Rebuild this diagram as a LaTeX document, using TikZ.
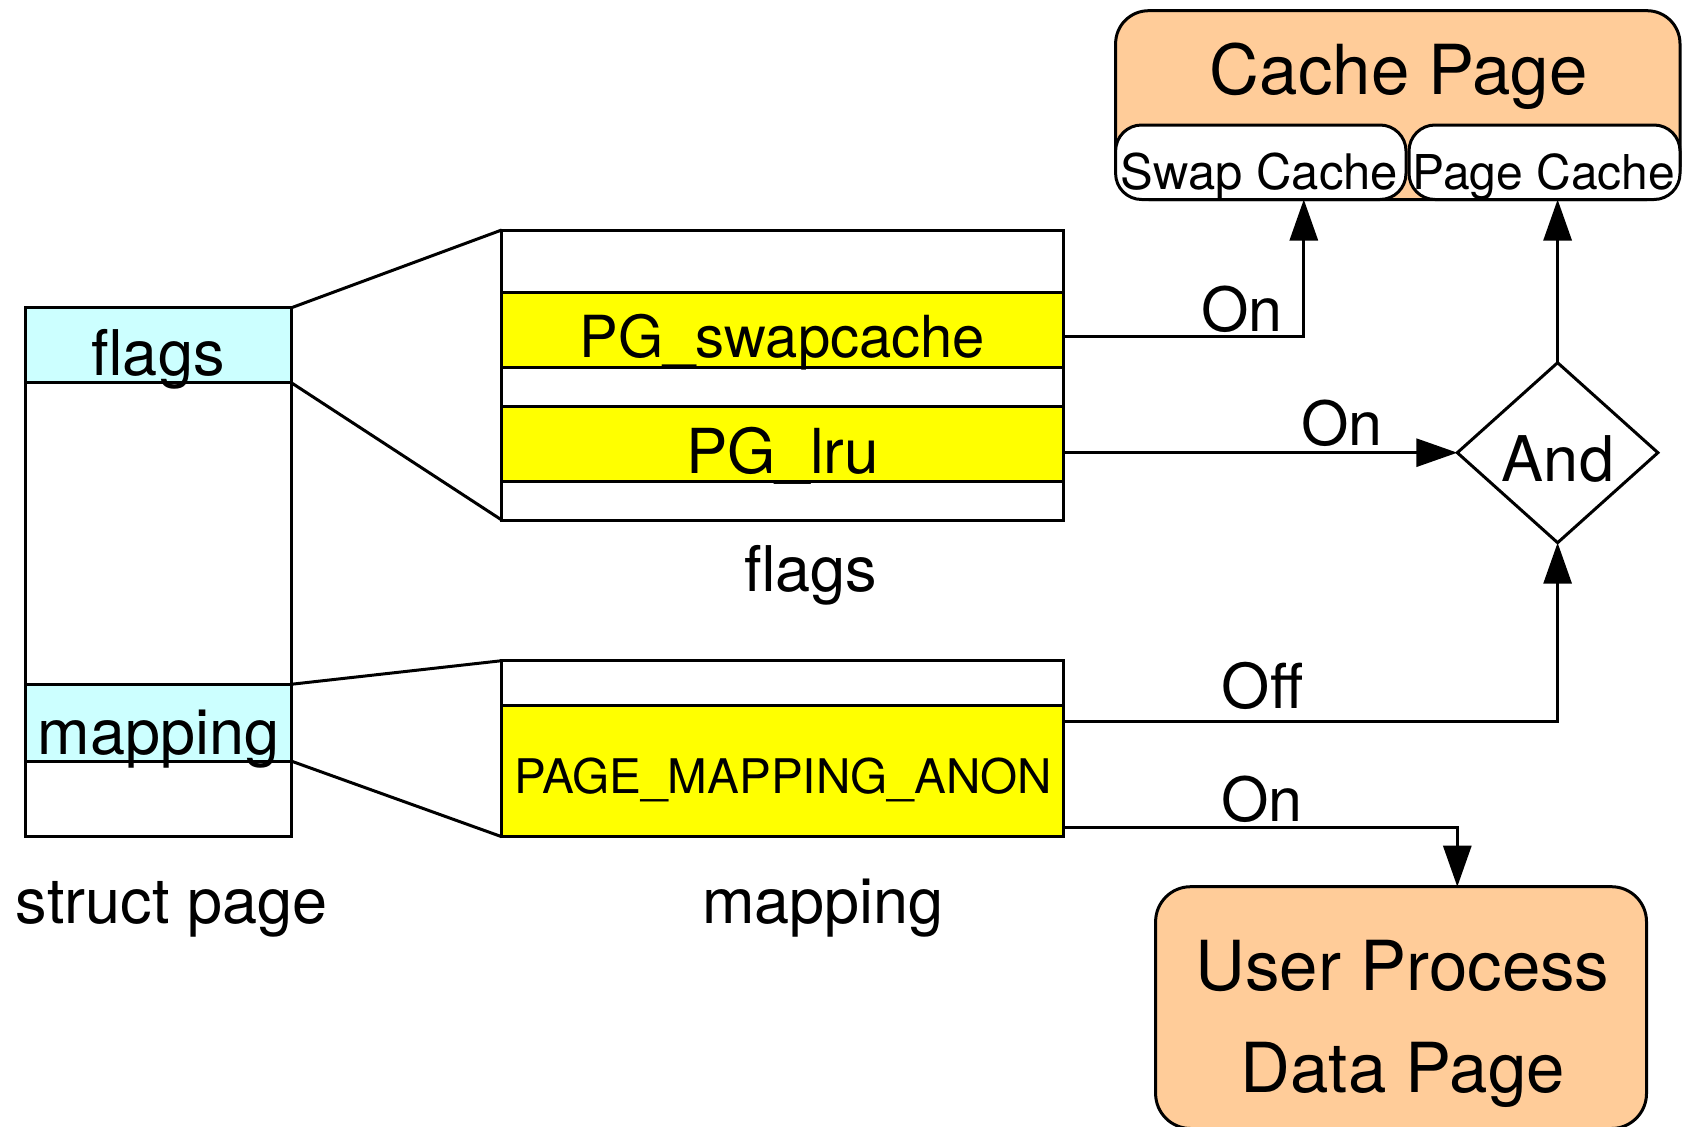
\documentclass[tikz,border=0pt]{standalone}
\usepackage{fontspec}
\setmainfont{TeX Gyre Heros}
\usetikzlibrary{arrows.meta,shapes.geometric,fit}
\definecolor{peach}{RGB}{255,204,153}
\definecolor{fieldcyan}{RGB}{204,255,255}
\definecolor{flagyellow}{RGB}{255,255,0}
\newcommand\fsz[1]{\fontsize{#1}{#1}\selectfont}
\begin{document}
\begin{tikzpicture}[x=1pt,y=-1pt,
  outline/.style={draw=black, line width=3pt, inner sep=0pt, outer sep=0pt},
  cell/.style={outline, fill=fieldcyan},
  bit/.style={outline, fill=flagyellow},
  cachebox/.style={outline, fill=peach, rounded corners=33pt},
  subcache/.style={outline, fill=white, rounded corners=26pt},
  txt/.style={inner sep=0pt, outer sep=0pt, anchor=base},
  link/.style={draw=black, line width=3pt},
  conn/.style={draw=black, line width=3pt, -{Triangle[length=41pt,width=28pt]}},
]
\useasboundingbox (0,0) rectangle (1682,1127);

% struct page with its two fields
\node[outline, fit={(25,307.9) (291,836.7)}] (sp) {};
\node[cell, fit={(25,307.9) (291,382.5)}] (spFlags) {};
\node[cell, fit={(25,684.3) (291,761)}] (spMap) {};
\node[txt] (spFlagsTxt) at (158,375) {\fsz{63}flags};
\node[txt] (spMapTxt) at (158.8,754.3) {\fsz{63}mapping};
\node[txt] (spTitle) at (171.5,923) {\fsz{63}struct page};

% flags word
\node[outline, fill=white, fit={(501.7,230) (1063,520)}] (fb) {};
\node[bit, fit={(501.7,292.3) (1063,367.7)}] (rowSwap) {};
\node[bit, fit={(501.7,406) (1063,481)}] (rowLru) {};
\node[txt] (rowSwapTxt) at (782.5,357.7) {\fsz{58}PG\_swapcache};
\node[txt] (rowLruTxt) at (782.5,473.3) {\fsz{62}PG\_lru};
\node[txt] (fbTitle) at (810.8,591.7) {\fsz{63}flags};

% mapping word
\node[outline, fill=white, fit={(501.7,660.7) (1063,836.7)}] (mb) {};
\node[bit, fit={(501.7,705.7) (1063,836.7)}] (mapAnon) {};
\node[txt] (mapAnonTxt) at (783,793.3) {\fsz{47.7}PAGE\_MAPPING\_ANON};
\node[txt] (mbTitle) at (823,923) {\fsz{63}mapping};

% expansion lines
\draw[link] (spFlags.north east) -- (fb.north west);
\draw[link] (spFlags.south east) -- (fb.south west);
\draw[link] (spMap.north east) -- (mb.north west);
\draw[link] (spMap.south east) -- (mb.south west);

% cache page
\node[cachebox, fit={(1115.6,10.7) (1680,199.5)}] (cache) {};
\node[subcache, fit={(1115.6,125) (1406,199.5)}] (swapc) {};
\node[subcache, fit={(1409,125) (1680,199.5)}] (pagec) {};
\node[txt] (cacheTxt) at (1398.8,94.3) {\fsz{69}Cache Page};
\node[txt] (swapcTxt) at (1259.5,189) {\fsz{49}Swap Cache};
\node[txt] (pagecTxt) at (1544,189) {\fsz{48}Page Cache};

% and gate
\node[outline, diamond, minimum width=200.6pt, minimum height=180pt] (andd) at (1557.6,452.7) {};
\node[txt] (anddTxt) at (1558,481.7) {\fsz{63}And};

% user process data page
\node[cachebox, rounded corners=35pt, fit={(1155.6,886.7) (1646.5,1128.5)}] (user) {};
\node[txt] (userTxt1) at (1402.5,990) {\fsz{69}User Process};
\node[txt] (userTxt2) at (1402.7,1092.3) {\fsz{69}Data Page};

% connectors
\draw[conn] ([yshift=-6pt]rowSwap.east) -| ([xshift=43pt]swapc.south);
\draw[conn] (andd.north) -- (andd.north |- pagec.south);
\draw[conn] (andd.west -| rowLru.east) -- (andd.west);
\draw[conn] ([yshift=50pt]mapAnon.east) -| (andd.south);
\draw[conn] ([yshift=-56.5pt]mapAnon.east) -| (andd.west |- user.north);

% connector labels
\node[txt] (onSwap) at (1241.7,331.7) {\fsz{61}On};
\node[txt] (onLru) at (1342,445) {\fsz{61}On};
\node[txt] (offAnon) at (1262.5,708.3) {\fsz{62}Off};
\node[txt] (onAnon) at (1262,821.7) {\fsz{61}On};
\end{tikzpicture}
\end{document}
